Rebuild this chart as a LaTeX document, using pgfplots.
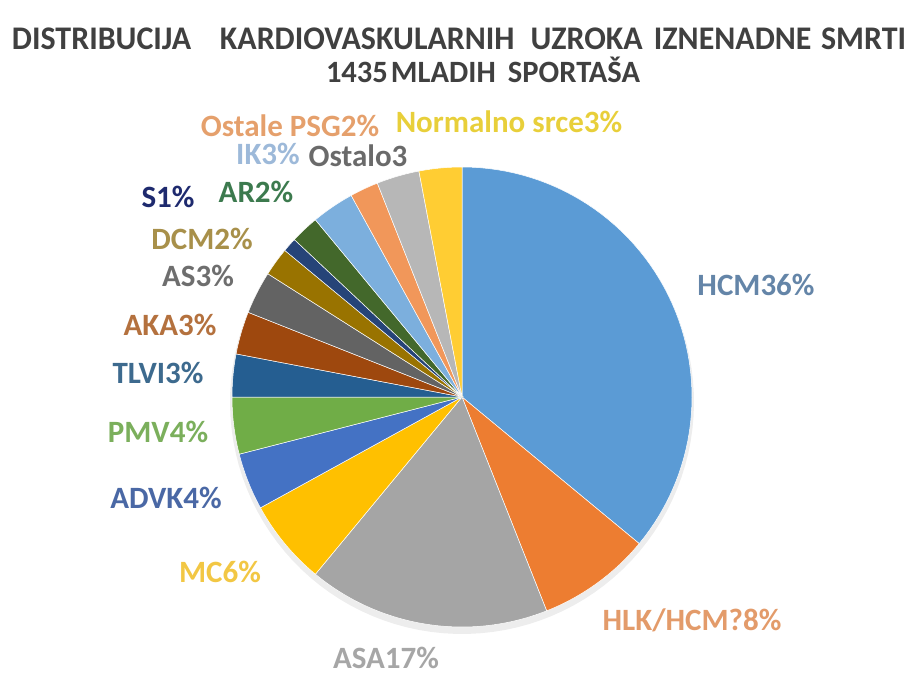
\documentclass[border=0pt]{standalone}
\usepackage{pgfplots}
\pgfplotsset{compat=1.18}
\usepackage{fontspec}
\setmainfont{Carlito}
\usepackage{graphicx}
% slice colours
\definecolor{cHCM}{HTML}{5B9BD5}
\definecolor{cHLK}{HTML}{ED7D31}
\definecolor{cASA}{HTML}{A5A5A5}
\definecolor{cMC}{HTML}{FFC000}
\definecolor{cADVK}{HTML}{4472C4}
\definecolor{cPMV}{HTML}{70AD47}
\definecolor{cTLVI}{HTML}{255E91}
\definecolor{cAKA}{HTML}{9E480E}
\definecolor{cAS}{HTML}{636363}
\definecolor{cDCM}{HTML}{997300}
\definecolor{cS}{HTML}{264478}
\definecolor{cAR}{HTML}{43682B}
\definecolor{cIK}{HTML}{7CAFDD}
\definecolor{cPSG}{HTML}{F1975A}
\definecolor{cOst}{HTML}{B7B7B7}
\definecolor{cNS}{HTML}{FFCD33}
% label colours
\definecolor{lHCM}{HTML}{6485A8}
\definecolor{lHLK}{HTML}{E39B6A}
\definecolor{lASA}{HTML}{A6A6A6}
\definecolor{lMC}{HTML}{F2C744}
\definecolor{lADVK}{HTML}{4A68A5}
\definecolor{lPMV}{HTML}{7BAF5C}
\definecolor{lTLVI}{HTML}{3D6A8E}
\definecolor{lAKA}{HTML}{B4713E}
\definecolor{lAS}{HTML}{6E6E6E}
\definecolor{lDCM}{HTML}{A8904A}
\definecolor{lS}{HTML}{1E2A6E}
\definecolor{lAR}{HTML}{3C7A4E}
\definecolor{lIK}{HTML}{9DB9D9}
\definecolor{lOst}{HTML}{6A6A6A}
\definecolor{lPSG}{HTML}{E5A06C}
\definecolor{lNS}{HTML}{E8CF3A}
\definecolor{ctitle}{HTML}{404040}
% #1 start percent, #2 end percent (cumulative), #3 colour
\newcommand\slice[3]{%
  \addplot[fill=#3, draw=white, line width=0.5pt, domain=#1*3.6:#2*3.6, samples=60, variable=\t]
    ({462+230*sin(\t)},{397-230*cos(\t)}) -- (axis cs:462,397) -- cycle;}
\newcommand\lab[4]{\node[anchor=base, inner sep=0pt, text=#3, font=\fontsize{31}{33}\selectfont\bfseries] at (axis cs:#1,#2) {#4};}
\begin{document}
\begin{tikzpicture}
\begin{axis}[width=918pt, height=676pt, scale only axis, hide axis,
  xmin=0, xmax=918, ymin=0, ymax=676, y dir=reverse, clip=false]
\path (rel axis cs:0,0) rectangle (rel axis cs:1,1);
% soft shadow under the pie
\addplot[fill=black, fill opacity=0.07, draw=none, domain=0:360, samples=120, variable=\t]
  ({462+232*sin(\t)},{402-232*cos(\t)}) -- cycle;
% values: HCM 36, HLK/HCM? 8, ASA 17, MC 6, ADVK 4, PMV 4, TLVI 3, AKA 3, AS 3,
% DCM 2, S 1, AR 2, IK 3, Ostale PSG 2, Ostalo 3, Normalno srce 3
\slice{0}{36}{cHCM}
\slice{36}{44}{cHLK}
\slice{44}{61}{cASA}
\slice{61}{67}{cMC}
\slice{67}{71}{cADVK}
\slice{71}{75}{cPMV}
\slice{75}{78}{cTLVI}
\slice{78}{81}{cAKA}
\slice{81}{84}{cAS}
\slice{84}{86}{cDCM}
\slice{86}{87}{cS}
\slice{87}{89}{cAR}
\slice{89}{92}{cIK}
\slice{92}{94}{cPSG}
\slice{94}{97}{cOst}
\slice{97}{100}{cNS}
\lab{756}{295}{lHCM}{HCM36\%}
\lab{692}{630}{lHLK}{HLK/HCM?8\%}
\lab{386}{668}{lASA}{ASA17\%}
\lab{220}{582}{lMC}{MC6\%}
\lab{166}{508}{lADVK}{ADVK4\%}
\lab{158}{442}{lPMV}{PMV4\%}
\lab{158}{383}{lTLVI}{TLVI3\%}
\lab{170}{335}{lAKA}{AKA3\%}
\lab{198}{287}{lAS}{AS3\%}
\lab{202}{250}{lDCM}{DCM2\%}
\lab{168}{208}{lS}{S1\%}
\lab{256}{203}{lAR}{AR2\%}
\lab{268}{165}{lIK}{IK3\%}
\lab{358}{167}{lOst}{Ostalo3}
\lab{290}{137}{lPSG}{Ostale PSG2\%}
\lab{509}{133}{lNS}{Normalno srce3\%}
\node[anchor=base, inner sep=0pt, text=ctitle, font=\fontsize{33}{35}\selectfont\bfseries] at (axis cs:459,50)
  {\resizebox{894pt}{\height}{DISTRIBUCIJA\hspace{0.9em}KARDIOVASKULARNIH\hspace{0.5em}UZROKA\hspace{0.35em}IZNENADNE\hspace{0.3em}SMRTI}};
\node[anchor=base, inner sep=0pt, text=ctitle, font=\fontsize{31}{33}\selectfont\bfseries] at (axis cs:483,83)
  {\resizebox{314pt}{\height}{1435\hspace{0.1em}MLADIH\hspace{0.4em}SPORTAŠA}};
\end{axis}
\end{tikzpicture}
\end{document}
